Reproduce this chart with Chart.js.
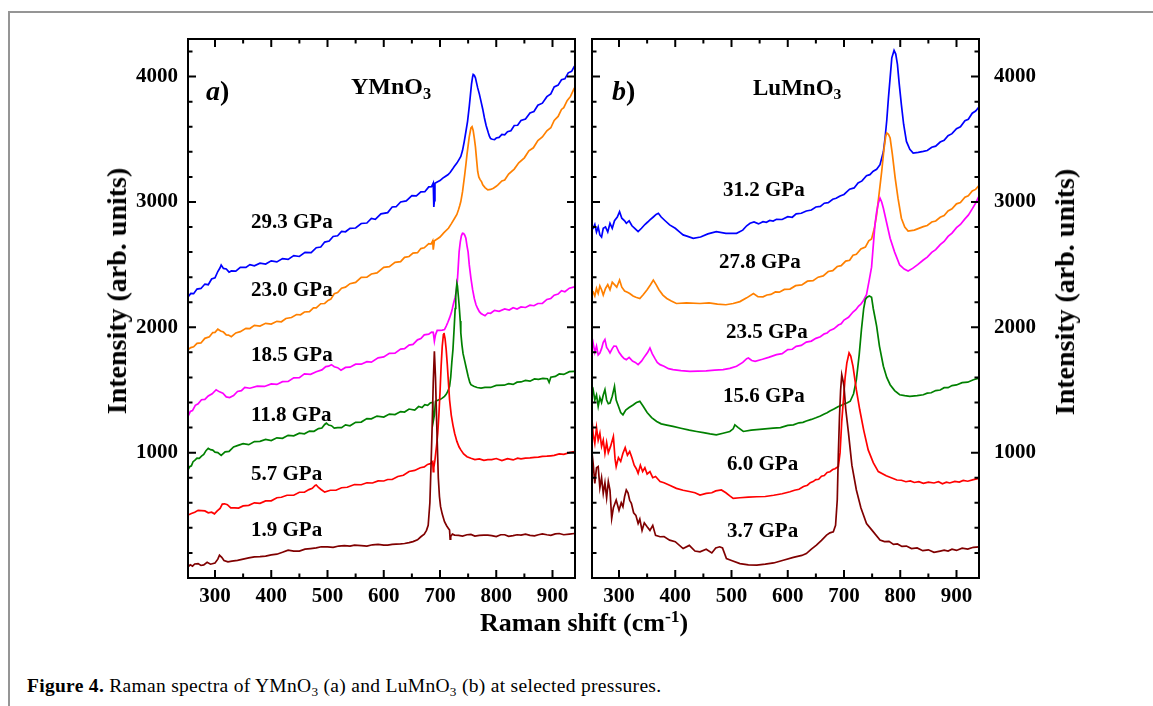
<!DOCTYPE html>
<html>
<head>
<meta charset="utf-8">
<script src="https://cdn.jsdelivr.net/npm/chart.js@4/dist/chart.umd.min.js"></script>
<style>
  html, body { margin: 0; padding: 0; background: #fff; }
  #page { position: relative; width: 1153px; height: 706px; overflow: hidden; font-family: "Liberation Serif", serif; color: #000; }
  #frame { position: absolute; left: 8px; top: 11px; width: 1150px; height: 700px; border-top: 2px solid #959595; border-left: 2px solid #959595; }
  canvas { position: absolute; top: 0; }
  .t { position: absolute; white-space: nowrap; line-height: 1; font-weight: bold; }
  .p { font-size: 21px; }
  .ttl { font-size: 28px; transform: translate(-50%, -50%) rotate(-90deg); }
  sub { font-size: 0.68em; vertical-align: -0.28em; line-height: 0; }
  sup { font-size: 0.68em; vertical-align: 0.5em; line-height: 0; }
  #cap { position: absolute; left: 27px; top: 676px; font-size: 19.5px; letter-spacing: 0.3px; line-height: 1; white-space: nowrap; }
</style>
</head>
<body>
<div id="page">
  <div id="frame"></div>
  <canvas id="chartA" width="590" height="640" style="left:0px"></canvas>
  <canvas id="chartB" width="573" height="640" style="left:580px"></canvas>

  <div class="t" style="left:206px;top:77px;font-size:28px"><i>a</i>)</div>
  <div class="t" style="left:351px;top:74px;font-size:24px">YMnO<sub>3</sub></div>
  <div class="t" style="left:612px;top:77px;font-size:28px"><i>b</i>)</div>
  <div class="t" style="left:753px;top:76px;font-size:23px">LuMnO<sub>3</sub></div>

  <div class="t p" style="left:251px;top:211px">29.3 GPa</div>
  <div class="t p" style="left:251px;top:279px">23.0 GPa</div>
  <div class="t p" style="left:251px;top:344px">18.5 GPa</div>
  <div class="t p" style="left:251px;top:404px">11.8 GPa</div>
  <div class="t p" style="left:251px;top:463px">5.7 GPa</div>
  <div class="t p" style="left:251px;top:519px">1.9 GPa</div>

  <div class="t p" style="left:723px;top:179px">31.2 GPa</div>
  <div class="t p" style="left:719px;top:251px">27.8 GPa</div>
  <div class="t p" style="left:726px;top:321px">23.5 GPa</div>
  <div class="t p" style="left:723px;top:385px">15.6 GPa</div>
  <div class="t p" style="left:727px;top:453px">6.0 GPa</div>
  <div class="t p" style="left:727px;top:520px">3.7 GPa</div>

  <div class="t ttl" style="left:117px;top:291px">Intensity (arb. units)</div>
  <div class="t ttl" style="left:1065px;top:292px">Intensity (arb. units)</div>
  <div class="t" style="left:480px;top:610px;font-size:26px">Raman shift (cm<sup>-1</sup>)</div>

  <div id="cap"><b>Figure 4.</b> Raman spectra of YMnO<sub>3</sub> (a) and LuMnO<sub>3</sub> (b) at selected pressures.</div>
</div>

<script>
// tick labels
const shiftTicks = [300, 400, 500, 600, 700, 800, 900];
const intensityTicks = [1000, 2000, 3000, 4000];

// panel a) YMnO3, [Raman shift, intensity]
const ymno_1_9 = [[252,88],[256,105],[260,95],[264,112],[270,115],[275,100],[280,105],[286,125],[292,110],[300,120],[305,150],[308,182],[312,165],[316,140],[323,129],[330,135],[340,140],[350,150],[360,160],[370,169],[380,170],[390,175],[400,185],[410,190],[420,205],[430,222],[440,215],[450,215],[460,230],[470,235],[480,240],[489,249],[500,248],[510,245],[520,255],[530,258],[540,255],[548,262],[560,258],[570,255],[580,265],[590,268],[600,262],[607,262],[615,268],[622,270],[630,272],[637,275],[645,282],[652,290],[660,305],[666,329],[672,350],[676,380],[679,420],[682,600],[684,889],[686,1200],[688,1560],[690,1809],[692,1600],[693,1422],[695,1100],[697,800],[699,650],[701,569],[704,510],[708,449],[712,415],[715,395],[717,382],[718,310],[719,330],[722,350],[726,342],[733,340],[740,335],[748,345],[755,348],[762,335],[770,340],[778,342],[785,342],[792,338],[800,330],[808,345],[815,345],[822,332],[830,338],[837,345],[844,342],[852,350],[860,340],[868,336],[875,345],[882,352],[890,345],[897,340],[905,352],[912,355],[920,345],[930,350],[939,355]];
const ymno_5_7 = [[252,502],[258,515],[264,525],[270,540],[276,538],[282,535],[288,520],[294,525],[299,512],[304,535],[309,555],[313,590],[317,592],[322,585],[328,560],[335,560],[342,558],[350,575],[360,580],[370,600],[380,596],[390,615],[400,616],[410,640],[418,644],[428,660],[440,660],[450,684],[459,684],[467,705],[473,716],[478,738],[480,742],[484,722],[488,708],[495,685],[505,700],[515,700],[525,720],[535,724],[548,746],[560,744],[570,760],[580,758],[590,775],[600,774],[607,786],[615,786],[625,810],[635,820],[645,850],[655,858],[665,880],[672,886],[678,906],[683,912],[687,928],[688,848],[689,880],[691,940],[694,1060],[696,1155],[698,1300],[700,1480],[702,1689],[704,1850],[706,1940],[707,1955],[709,1910],[711,1822],[713,1700],[715,1560],[717,1422],[720,1300],[723,1220],[726,1155],[730,1090],[734,1045],[737,1022],[742,990],[748,968],[755,955],[762,945],[770,950],[778,938],[785,945],[792,944],[800,953],[810,937],[820,952],[830,942],[838,956],[844,950],[852,956],[860,958],[868,963],[875,964],[882,970],[890,972],[897,975],[903,978],[912,990],[920,986],[930,1000],[939,1009]];
const ymno_11_8 = [[252,862],[255,888],[258,895],[261,928],[264,938],[268,956],[272,955],[276,972],[280,985],[284,1016],[288,1035],[292,1024],[296,1020],[300,1004],[305,1000],[311,978],[318,1006],[325,1010],[333,1046],[341,1058],[350,1072],[360,1064],[370,1088],[380,1090],[390,1105],[400,1096],[410,1118],[420,1114],[430,1138],[440,1134],[450,1155],[459,1150],[468,1172],[476,1170],[484,1192],[490,1196],[495,1225],[498,1235],[502,1220],[507,1215],[512,1195],[518,1200],[525,1200],[532,1222],[540,1214],[550,1242],[560,1244],[570,1272],[578,1270],[588,1292],[600,1284],[610,1308],[620,1304],[630,1328],[637,1324],[645,1348],[655,1340],[662,1368],[668,1360],[673,1382],[678,1378],[683,1398],[687,1400],[688,1250],[690,1300],[692,1410],[696,1418],[700,1425],[704,1435],[708,1449],[711,1465],[714,1490],[717,1529],[719,1600],[721,1720],[723,1822],[725,1980],[727,2150],[728,2260],[730,2350],[731,2330],[732,2280],[734,2177],[736,2050],[737,1955],[739,1860],[741,1790],[744,1730],[746,1689],[750,1610],[753,1560],[755,1542],[760,1530],[766,1520],[773,1515],[780,1520],[790,1520],[800,1536],[814,1538],[822,1550],[830,1544],[837,1562],[844,1564],[852,1576],[860,1570],[868,1588],[875,1585],[883,1592],[891,1590],[894,1560],[897,1602],[905,1608],[912,1628],[920,1624],[930,1646],[939,1649]];
const ymno_18_5 = [[252,1289],[256,1328],[260,1335],[265,1378],[270,1390],[276,1422],[282,1425],[288,1452],[295,1470],[302,1502],[308,1485],[314,1475],[320,1445],[326,1440],[333,1455],[340,1488],[347,1495],[353,1520],[362,1514],[375,1530],[388,1528],[400,1548],[410,1544],[420,1566],[430,1568],[440,1597],[450,1598],[459,1628],[470,1625],[480,1646],[490,1660],[497,1686],[502,1690],[507,1702],[512,1685],[518,1678],[524,1658],[532,1680],[540,1682],[550,1706],[560,1706],[570,1726],[578,1722],[590,1756],[600,1764],[610,1792],[620,1794],[630,1826],[637,1830],[645,1858],[652,1864],[660,1900],[666,1910],[672,1940],[680,1945],[685,1962],[688,1960],[690,1890],[692,1940],[695,1975],[700,1975],[704,1978],[708,1982],[711,2010],[714,2040],[717,2075],[720,2115],[722,2150],[724,2190],[727,2240],[729,2283],[731,2380],[732,2450],[734,2603],[736,2680],[738,2730],[740,2750],[742,2748],[744,2735],[746,2710],[748,2650],[750,2600],[752,2500],[755,2390],[758,2300],[761,2230],[764,2180],[767,2150],[770,2125],[773,2110],[776,2102],[780,2092],[785,2114],[790,2112],[797,2135],[805,2128],[815,2146],[823,2138],[830,2156],[837,2146],[844,2162],[852,2158],[860,2176],[867,2172],[874,2190],[882,2190],[890,2222],[897,2230],[903,2256],[910,2265],[916,2292],[922,2284],[930,2312],[939,2323]];
const ymno_23_0 = [[252,1822],[257,1838],[262,1845],[268,1872],[275,1875],[282,1912],[290,1925],[296,1958],[300,1960],[305,1985],[310,1970],[315,1962],[320,1940],[324,1938],[329,1925],[337,1955],[345,1965],[355,1992],[362,1990],[370,2015],[380,2010],[390,2032],[400,2026],[410,2048],[418,2044],[426,2070],[436,2078],[445,2102],[452,2100],[459,2122],[468,2125],[475,2155],[480,2155],[488,2188],[495,2190],[501,2215],[506,2225],[512,2268],[518,2278],[525,2312],[532,2320],[540,2348],[550,2358],[560,2398],[570,2400],[578,2425],[588,2434],[600,2478],[610,2484],[620,2518],[630,2524],[637,2558],[645,2565],[652,2592],[660,2595],[666,2628],[672,2634],[680,2668],[684,2664],[687,2690],[688,2620],[690,2690],[695,2705],[700,2720],[707,2755],[715,2790],[720,2825],[726,2870],[730,2900],[733,2940],[735,2970],[737,3003],[740,3080],[742,3150],[744,3220],[746,3297],[748,3380],[750,3450],[752,3520],[755,3590],[757,3600],[759,3570],[761,3510],[763,3440],[765,3340],[767,3243],[769,3200],[771,3180],[774,3160],[776,3137],[780,3115],[785,3097],[790,3100],[795,3110],[800,3125],[803,3137],[810,3168],[815,3175],[822,3222],[832,3262],[840,3312],[850,3352],[858,3408],[866,3432],[874,3490],[882,3518],[890,3568],[897,3592],[903,3650],[910,3682],[916,3738],[920,3752],[926,3808],[932,3842],[939,3910]];
const ymno_29_3 = [[252,2243],[257,2270],[262,2268],[268,2305],[275,2310],[282,2345],[288,2340],[294,2385],[300,2395],[305,2445],[309,2475],[311,2497],[315,2470],[320,2465],[325,2440],[329,2450],[337,2448],[345,2478],[355,2478],[362,2500],[370,2490],[380,2512],[390,2505],[400,2530],[410,2522],[420,2548],[430,2542],[440,2572],[450,2565],[460,2598],[471,2595],[480,2635],[488,2640],[495,2680],[503,2688],[510,2725],[518,2730],[525,2765],[532,2762],[540,2790],[550,2792],[560,2828],[570,2832],[578,2868],[585,2862],[595,2905],[607,2915],[615,2960],[622,2962],[630,3000],[640,3008],[650,3050],[658,3048],[666,3080],[673,3082],[680,3120],[685,3122],[688,3150],[689,2960],[690,3010],[691,3150],[695,3160],[700,3170],[705,3190],[710,3205],[714,3217],[718,3235],[722,3260],[725,3280],[730,3310],[734,3340],[737,3363],[740,3410],[743,3480],[746,3560],[749,3643],[752,3760],[754,3850],[756,3940],[758,4000],[759,4017],[761,4010],[763,3990],[765,3950],[767,3910],[770,3860],[773,3800],[776,3740],[779,3670],[782,3610],[784,3580],[786,3550],[788,3523],[790,3505],[793,3500],[797,3497],[800,3510],[805,3515],[810,3538],[815,3535],[820,3560],[826,3568],[832,3610],[838,3612],[844,3650],[852,3662],[860,3710],[867,3722],[874,3772],[882,3788],[890,3840],[897,3862],[903,3918],[910,3932],[916,3975],[922,3982],[928,4030],[934,4042],[939,4083]];

// panel b) LuMnO3, [Raman shift, intensity]
const lumno_3_7 = [[252,1000],[254,915],[257,755],[260,880],[263,889],[266,720],[269,800],[272,675],[275,760],[278,640],[281,769],[284,700],[287,475],[290,560],[295,622],[300,540],[304,600],[307,569],[310,650],[313,702],[316,680],[319,620],[322,595],[326,520],[330,500],[334,435],[337,470],[341,380],[345,440],[350,409],[355,380],[360,420],[365,340],[373,329],[380,330],[390,302],[400,290],[414,235],[425,260],[435,215],[444,209],[455,230],[465,200],[472,240],[479,249],[484,240],[491,155],[500,140],[515,115],[530,105],[545,102],[560,110],[575,120],[592,142],[610,165],[625,180],[633,195],[642,230],[651,262],[660,300],[669,342],[675,360],[681,369],[685,420],[688,622],[690,1000],[692,1289],[694,1500],[696,1622],[698,1580],[700,1529],[703,1350],[708,1155],[714,900],[722,702],[730,560],[740,435],[750,380],[764,302],[772,290],[780,292],[788,268],[795,272],[803,252],[811,255],[820,235],[830,240],[840,218],[850,225],[860,205],[871,215],[878,222],[885,215],[892,230],[900,220],[910,238],[920,230],[930,245],[941,249]];
const lumno_6_0 = [[252,1262],[254,1150],[257,1075],[260,1200],[263,1100],[266,1155],[269,1050],[272,1100],[275,995],[278,1080],[281,1000],[285,1050],[290,1129],[293,950],[295,889],[299,960],[303,930],[307,995],[311,1040],[315,980],[319,1009],[323,960],[327,900],[331,870],[334,835],[338,900],[342,850],[346,880],[350,830],[355,849],[360,800],[365,810],[373,769],[380,760],[390,740],[402,715],[414,700],[425,690],[435,680],[444,662],[455,675],[465,680],[472,695],[482,702],[490,680],[497,655],[503,635],[515,640],[530,645],[545,648],[560,650],[575,660],[590,672],[604,688],[612,700],[620,708],[628,730],[635,740],[640,760],[645,769],[650,785],[655,788],[660,812],[665,818],[670,842],[675,848],[680,865],[684,872],[690,889],[693,1000],[696,1250],[699,1422],[702,1600],[705,1715],[709,1795],[712,1770],[716,1689],[722,1500],[728,1342],[735,1180],[743,1022],[752,920],[761,849],[775,815],[794,782],[802,780],[810,768],[818,775],[825,762],[833,768],[841,755],[850,765],[860,758],[868,768],[875,752],[882,765],[888,758],[897,770],[905,765],[912,778],[920,772],[930,785],[941,795]];
const lumno_15_6 = [[252,1480],[254,1502],[257,1420],[260,1460],[263,1369],[266,1440],[269,1400],[272,1460],[275,1502],[278,1420],[281,1390],[284,1395],[288,1450],[292,1529],[295,1420],[299,1370],[303,1320],[307,1302],[312,1340],[318,1360],[325,1380],[331,1400],[337,1409],[343,1370],[350,1320],[358,1280],[367,1249],[375,1230],[385,1220],[396,1209],[410,1195],[425,1180],[438,1169],[450,1160],[462,1150],[473,1142],[485,1155],[497,1169],[503,1190],[506,1222],[512,1200],[521,1169],[535,1180],[550,1185],[574,1195],[587,1200],[600,1218],[610,1222],[620,1238],[627,1242],[633,1252],[642,1265],[650,1278],[658,1292],[665,1308],[670,1318],[675,1332],[683,1350],[690,1368],[695,1376],[700,1388],[706,1398],[711,1410],[717,1470],[722,1582],[727,1780],[731,1982],[735,2150],[738,2222],[741,2240],[745,2250],[749,2240],[752,2150],[755,2080],[758,2009],[763,1850],[770,1689],[776,1600],[782,1542],[790,1495],[799,1462],[808,1455],[817,1449],[830,1455],[841,1462],[848,1475],[855,1478],[863,1495],[871,1500],[878,1518],[885,1518],[892,1535],[900,1540],[910,1558],[920,1562],[930,1582],[941,1595]];
const lumno_23_5 = [[252,1830],[254,1875],[257,1800],[260,1850],[263,1780],[266,1795],[269,1830],[272,1880],[275,1902],[278,1840],[281,1820],[284,1795],[288,1830],[291,1850],[295,1849],[300,1800],[305,1770],[309,1750],[313,1742],[318,1760],[324,1730],[329,1720],[334,1702],[340,1730],[346,1770],[351,1800],[355,1835],[359,1790],[364,1750],[368,1720],[373,1702],[380,1690],[388,1670],[396,1662],[410,1655],[426,1649],[440,1650],[455,1652],[470,1658],[485,1662],[497,1672],[509,1689],[520,1720],[527,1750],[530,1755],[536,1735],[542,1729],[555,1745],[566,1760],[580,1782],[590,1790],[600,1822],[608,1825],[615,1848],[624,1856],[633,1882],[642,1890],[650,1912],[658,1925],[665,1948],[670,1955],[675,1975],[682,1988],[690,2018],[695,2028],[700,2058],[708,2080],[716,2122],[721,2140],[726,2170],[730,2185],[734,2209],[740,2260],[745,2380],[749,2480],[752,2650],[755,2817],[758,2920],[761,2990],[764,3030],[767,3000],[770,2950],[776,2830],[782,2710],[790,2600],[799,2497],[807,2465],[814,2449],[822,2470],[831,2500],[841,2537],[848,2560],[856,2598],[863,2620],[871,2660],[878,2685],[885,2725],[892,2752],[900,2795],[907,2820],[915,2865],[921,2895],[928,2945],[934,2990],[941,3057]];
const lumno_27_8 = [[252,2290],[254,2283],[257,2250],[260,2310],[263,2270],[266,2330],[269,2300],[272,2257],[276,2310],[280,2340],[284,2300],[288,2360],[292,2340],[296,2320],[301,2377],[305,2320],[310,2290],[315,2280],[319,2270],[325,2250],[330,2240],[337,2230],[343,2260],[350,2300],[356,2340],[361,2377],[366,2340],[371,2300],[378,2257],[385,2230],[393,2210],[402,2190],[420,2195],[444,2190],[460,2195],[475,2185],[490,2180],[503,2190],[515,2205],[527,2235],[539,2270],[547,2245],[556,2243],[563,2258],[570,2262],[578,2282],[585,2280],[594,2302],[604,2305],[614,2332],[625,2338],[635,2368],[645,2372],[654,2400],[663,2410],[672,2445],[680,2452],[688,2485],[695,2492],[703,2528],[710,2535],[716,2575],[722,2582],[730,2625],[738,2640],[744,2690],[749,2705],[754,2790],[758,2897],[762,3050],[767,3243],[771,3420],[774,3520],[776,3550],[779,3540],[782,3510],[786,3380],[791,3190],[796,3030],[802,2870],[808,2800],[814,2768],[825,2775],[841,2803],[848,2812],[856,2840],[863,2848],[871,2878],[878,2892],[885,2928],[892,2945],[900,2985],[907,2995],[915,3038],[921,3050],[928,3088],[934,3100],[941,3137]];
const lumno_31_2 = [[252,2780],[254,2790],[257,2820],[260,2760],[263,2800],[266,2737],[269,2720],[272,2790],[276,2800],[280,2760],[284,2830],[288,2790],[292,2850],[297,2880],[301,2923],[305,2870],[310,2850],[313,2830],[318,2850],[323,2810],[328,2790],[334,2763],[340,2790],[346,2820],[351,2840],[355,2857],[361,2880],[366,2900],[370,2910],[375,2880],[382,2850],[390,2817],[400,2790],[408,2760],[414,2737],[422,2725],[432,2710],[445,2720],[458,2745],[473,2763],[490,2750],[509,2750],[520,2775],[527,2810],[533,2830],[540,2840],[548,2825],[556,2843],[562,2838],[568,2852],[574,2848],[580,2862],[590,2860],[600,2882],[608,2878],[615,2905],[624,2910],[633,2928],[642,2936],[650,2960],[658,2964],[665,2990],[672,2995],[680,3022],[686,3030],[693,3048],[700,3060],[710,3102],[718,3112],[725,3152],[732,3168],[740,3210],[746,3218],[752,3245],[758,3260],[764,3297],[770,3400],[773,3510],[776,3650],[779,3830],[782,3990],[785,4150],[789,4209],[792,4180],[795,4097],[798,3950],[802,3777],[806,3620],[811,3483],[817,3420],[823,3390],[832,3395],[841,3403],[848,3410],[856,3436],[863,3445],[871,3478],[878,3492],[885,3528],[892,3545],[900,3585],[907,3600],[915,3648],[921,3660],[928,3708],[934,3725],[941,3763]];

const colors = ['#800000', '#ff0000', '#008000', '#ff00ff', '#ff8000', '#0000ff'];

const tickFont = { family: 'Liberation Serif', weight: 'bold', size: 21 };

// box round the plot with inward ticks on all four sides
const frameTicks = {
  id: 'frameTicks',
  afterDatasetsDraw(chart) {
    const { ctx, chartArea: a } = chart;
    const x = chart.scales.x, y = chart.scales.y;
    ctx.save();
    ctx.strokeStyle = '#000';
    ctx.lineWidth = 2;
    ctx.strokeRect(a.left, a.top, a.right - a.left, a.bottom - a.top);
    ctx.beginPath();
    for (let v = 300; v <= 900; v += 50) {
      const px = x.getPixelForValue(v);
      const len = v % 100 === 0 ? 8 : 4.5;
      ctx.moveTo(px, a.bottom); ctx.lineTo(px, a.bottom - len);
      ctx.moveTo(px, a.top); ctx.lineTo(px, a.top + len);
    }
    for (let v = 200; v <= 4200; v += 200) {
      const py = y.getPixelForValue(v);
      const len = v % 1000 === 0 ? 8 : 4.5;
      ctx.moveTo(a.left, py); ctx.lineTo(a.left + len, py);
      ctx.moveTo(a.right, py); ctx.lineTo(a.right - len, py);
    }
    ctx.stroke();
    ctx.restore();
  }
};

function makePanel(id, series, side, padding, labelPad) {
  return new Chart(document.getElementById(id), {
    type: 'line',
    data: {
      datasets: series.map((s, i) => ({
        data: s.map(p => ({ x: p[0], y: p[1] })),
        borderColor: colors[i],
        borderWidth: 1.7,
        pointRadius: 0,
        tension: 0,
        fill: false
      }))
    },
    options: {
      responsive: false,
      animation: false,
      events: [],
      layout: { padding: padding },
      plugins: { legend: { display: false }, tooltip: { enabled: false } },
      scales: {
        x: {
          type: 'linear', min: 252, max: 940,
          afterBuildTicks: s => { s.ticks = shiftTicks.map(v => ({ value: v })); },
          afterFit: s => { s.height = 42; },
          grid: { display: false, drawTicks: false }, border: { display: false },
          ticks: { font: tickFont, color: '#000', padding: 6, autoSkip: false, maxRotation: 0, callback: v => String(v) }
        },
        y: {
          type: 'linear', position: side, min: 0, max: 4300,
          afterBuildTicks: s => { s.ticks = intensityTicks.map(v => ({ value: v })); },
          afterFit: s => { s.width = 80; },
          grid: { display: false, drawTicks: false }, border: { display: false },
          ticks: { font: tickFont, color: '#000', padding: labelPad, callback: v => String(v) }
        }
      }
    },
    plugins: [frameTicks]
  });
}

makePanel('chartA', [ymno_1_9, ymno_5_7, ymno_11_8, ymno_18_5, ymno_23_0, ymno_29_3], 'left',
  { left: 108, right: 15, top: 39, bottom: 20 }, 10);
makePanel('chartB', [lumno_3_7, lumno_6_0, lumno_15_6, lumno_23_5, lumno_27_8, lumno_31_2], 'right',
  { left: 12, right: 94, top: 39, bottom: 20 }, 15);
</script>
</body>
</html>
